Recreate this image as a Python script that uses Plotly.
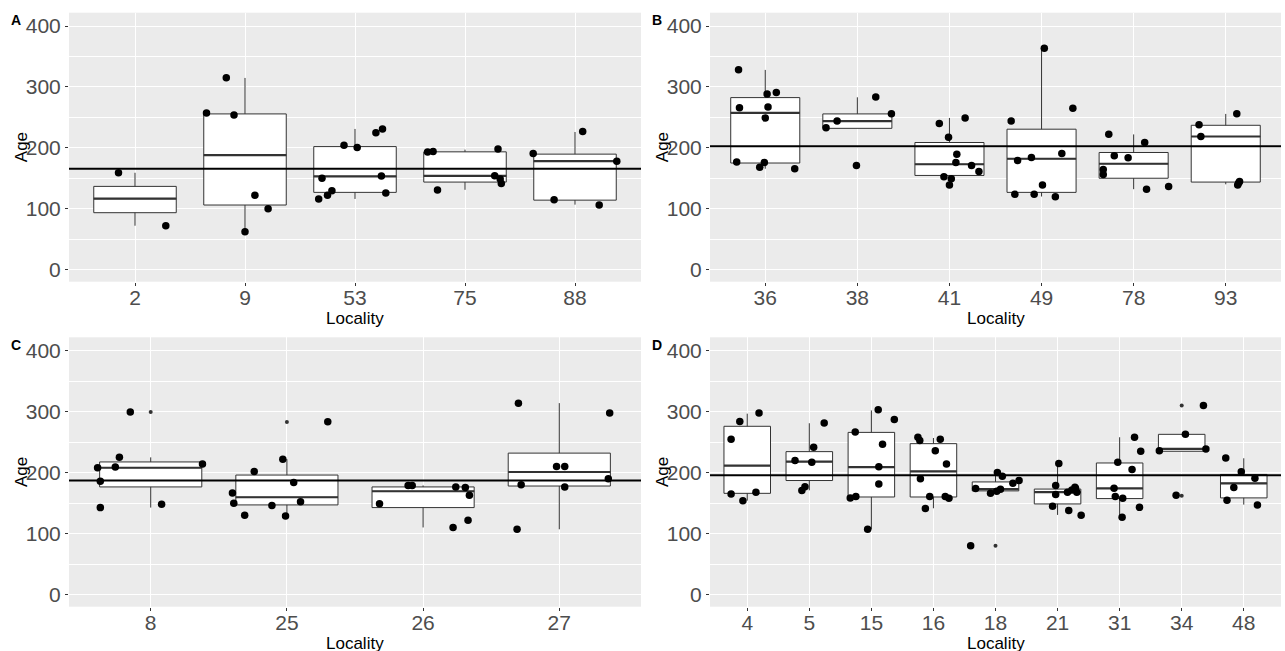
import plotly.graph_objects as go

# ---------------- Panel A ----------------
A_loc = ["2", "9", "53", "75", "88"]
A_q1 = [93.4, 106, 126.8, 143.7, 114]
A_med = [116.4, 188, 153, 154, 178]
A_q3 = [136.6, 255.7, 202, 193.4, 189.6]
A_lo = [72, 62.3, 116, 131, 106.6]
A_hi = [159, 314.8, 231, 197, 226]
A_pt_loc = ["2", "2",
            "9", "9", "9", "9", "9", "9",
            "53", "53", "53", "53", "53", "53", "53", "53", "53", "53",
            "75", "75", "75", "75", "75", "75", "75",
            "88", "88", "88", "88", "88"]
A_pt_jit = [-0.15, 0.28,
            -0.35, -0.17, -0.10, 0.09, 0.21, 0.0,
            -0.33, -0.30, -0.25, -0.21, -0.10, 0.02, 0.19, 0.25, 0.24, 0.28,
            -0.34, -0.29, -0.25, 0.30, 0.27, 0.32, 0.33,
            -0.38, -0.19, 0.07, 0.22, 0.38]
A_pt_age = [159, 72,
            257, 315, 254, 122, 100, 62,
            116, 150, 122, 129.5, 204, 200.5, 224.6, 231, 153.6, 125.7,
            193, 194, 130.6, 198, 154, 148.6, 141.5,
            190.7, 114.8, 227, 106, 178]
A_out_loc = []
A_out_age = []
A_mean = 165.6

# ---------------- Panel B ----------------
B_loc = ["36", "38", "41", "49", "78", "93"]
B_q1 = [175, 232, 154.6, 126.8, 150, 143.7]
B_med = [257.4, 244, 173, 182, 173.8, 218.6]
B_q3 = [282.5, 255.7, 208.7, 230.6, 192.3, 237]
B_lo = [165.6, 232, 139, 120, 132, 140]
B_hi = [328, 283, 249, 363, 222, 255.7]
B_pt_loc = ["36"] * 10 + ["38"] * 5 + ["41"] * 10 + ["49"] * 10 + ["78"] * 8 + ["93"] * 6
B_pt_jit = [-0.29, -0.28, -0.31, -0.06, -0.01, 0.0, 0.02, 0.03, 0.12, 0.32,
            -0.34, -0.22, -0.01, 0.20, 0.37,
            -0.11, -0.01, 0.08, 0.07, -0.06, 0.02, 0.0, 0.17, 0.24, 0.32,
            -0.33, -0.26, -0.29, -0.11, -0.08, 0.01, 0.03, 0.15, 0.22, 0.34,
            -0.27, -0.21, -0.33, -0.33, -0.06, 0.12, 0.14, 0.38,
            -0.29, -0.27, 0.12, 0.13, 0.15, 0.14]
B_pt_age = [328.4, 266, 176.5, 168, 176, 249, 288.5, 267, 290.7, 165.6,
            233, 244, 171, 283.6, 256,
            240, 217.5, 189.6, 176, 152.5, 149, 139, 249, 171, 161,
            244, 179, 123.5, 184, 123.5, 139, 363.4, 119.7, 190.7, 265,
            222.4, 187, 164.5, 156, 183.6, 208.7, 132, 136.6,
            237.7, 218.6, 256, 139, 144.8, 142]
B_out_loc = ["38"]
B_out_age = [171]
B_mean = 202.7

# ---------------- Panel C ----------------
C_loc = ["8", "25", "26", "27"]
C_q1 = [176.5, 147, 142.6, 178]
C_med = [208, 159.6, 169.4, 201]
C_q3 = [217.5, 196, 176.5, 232]
C_lo = [142.6, 129, 110, 107]
C_hi = [225, 222, 179, 314]
C_pt_loc = ["8"] * 8 + ["25"] * 10 + ["26"] * 8 + ["27"] * 8
C_pt_jit = [-0.39, -0.37, -0.37, -0.26, -0.23, -0.15, 0.08, 0.38,
            -0.40, -0.39, -0.31, -0.24, -0.11, -0.03, -0.01, 0.05, 0.10, 0.30,
            -0.32, -0.11, -0.08, 0.22, 0.24, 0.31, 0.34, 0.33,
            -0.30, -0.31, -0.28, -0.02, 0.04, 0.04, 0.36, 0.37]
C_pt_age = [208, 186, 142.6, 209, 225, 299.5, 148, 214,
            166.7, 149.7, 130, 202, 146, 222, 129, 183.6, 152, 283.6,
            149, 179, 179, 110, 176.5, 175.4, 163, 122,
            314, 107, 180, 210, 210, 176.5, 190, 298]
C_out_loc = ["8", "25"]
C_out_age = [299.5, 283]
C_mean = 186.9

# ---------------- Panel D ----------------
D_loc = ["4", "5", "15", "16", "18", "21", "31", "34", "48"]
D_q1 = [166, 187, 160, 160, 170, 148.6, 157.4, 235, 158.5]
D_med = [211.5, 218, 209, 202, 173, 168, 174, 238.8, 182.5]
D_q3 = [276, 234.4, 266, 247.5, 184.7, 173, 215.8, 262.8, 197]
D_lo = [154, 171, 107, 141.5, 166, 130.6, 126.8, 235, 147.5]
D_hi = [296.7, 281, 302, 256.8, 201.6, 215, 258, 262.8, 223.5]
D_pt_loc = (["4"] * 6 + ["5"] * 6 + ["15"] * 9 + ["16"] * 10 + ["18"] * 9
            + ["21"] * 11 + ["31"] * 9 + ["34"] * 5 + ["48"] * 6)
D_pt_jit = [-0.26, -0.12, -0.26, -0.07, 0.14, 0.19,
            -0.23, -0.12, -0.07, 0.04, 0.07, 0.24,
            -0.34, -0.25, -0.26, -0.06, 0.11, 0.12, 0.12, 0.18, 0.37,
            -0.25, -0.22, -0.21, -0.13, -0.06, 0.03, 0.11, 0.21, 0.19, 0.25,
            -0.40, -0.32, -0.08, 0.02, 0.03, 0.08, 0.11, 0.28, 0.38,
            -0.08, -0.03, -0.03, 0.02, 0.18, 0.16, 0.23, 0.28, 0.31, 0.38, 0.29,
            -0.09, -0.07, -0.03, 0.05, 0.04, 0.20, 0.24, 0.32, 0.34,
            -0.36, -0.09, 0.06, 0.35, 0.39,
            -0.29, -0.27, -0.16, -0.04, 0.18, 0.22]
D_pt_age = [165, 284, 254.6, 154, 167.8, 297.8,
            219.7, 170.5, 177, 217, 241.5, 281.4,
            158.5, 160.7, 266.7, 107, 303.3, 209.8, 181.4, 246.4, 287,
            258, 252.5, 190, 141, 160.7, 236, 254.6, 214, 160.7, 158,
            80, 173.8, 166, 169.4, 200, 172.7, 194, 182.5, 187,
            144.8, 164, 179, 215, 137.7, 167.8, 171.6, 176, 167.8, 130, 173.8,
            174.3, 160.7, 217, 158, 126.8, 205, 258, 143, 235,
            236, 162.8, 262.8, 310, 238.8,
            224, 154.6, 175.4, 201.6, 190.7, 147]
D_out_loc = ["18", "34", "34"]
D_out_age = [79.8, 310, 162]
D_mean = 195.6

Y_TICKS = [0, 100, 200, 300, 400]

# ---------------- Styling constants ----------------
FONT = "Liberation Sans, Arial, sans-serif"
TICK_COLOR = "#4d4d4d"
BOX_HALF = 0.375
W, H = 1285, 651

panels = [
    dict(loc=A_loc, q1=A_q1, med=A_med, q3=A_q3, lo=A_lo, hi=A_hi,
         pl=A_pt_loc, pj=A_pt_jit, pa=A_pt_age, ol=A_out_loc, oa=A_out_age,
         mean=A_mean, ax="", xd=(69, 641), yd=(12.7, 281.7), lab="A"),
    dict(loc=B_loc, q1=B_q1, med=B_med, q3=B_q3, lo=B_lo, hi=B_hi,
         pl=B_pt_loc, pj=B_pt_jit, pa=B_pt_age, ol=B_out_loc, oa=B_out_age,
         mean=B_mean, ax="2", xd=(710, 1281), yd=(12.7, 281.7), lab="B"),
    dict(loc=C_loc, q1=C_q1, med=C_med, q3=C_q3, lo=C_lo, hi=C_hi,
         pl=C_pt_loc, pj=C_pt_jit, pa=C_pt_age, ol=C_out_loc, oa=C_out_age,
         mean=C_mean, ax="3", xd=(69, 641), yd=(337.3, 606.7), lab="C"),
    dict(loc=D_loc, q1=D_q1, med=D_med, q3=D_q3, lo=D_lo, hi=D_hi,
         pl=D_pt_loc, pj=D_pt_jit, pa=D_pt_age, ol=D_out_loc, oa=D_out_age,
         mean=D_mean, ax="4", xd=(710, 1281), yd=(337.3, 606.7), lab="D"),
]

fig = go.Figure()
layout = {}
annotations = []
shapes = []

for p in panels:
    xa = "x" + p["ax"]
    ya = "y" + p["ax"]
    n = len(p["loc"])
    pos = list(range(1, n + 1))
    idx = {l: i + 1 for i, l in enumerate(p["loc"])}

    fig.add_trace(go.Box(
        x=pos, q1=p["q1"], median=p["med"], q3=p["q3"],
        lowerfence=p["lo"], upperfence=p["hi"],
        width=2 * BOX_HALF, whiskerwidth=0, boxpoints=False,
        fillcolor="white", line=dict(color="#333333", width=1),
        xaxis=xa, yaxis=ya, showlegend=False, hoverinfo="skip"))

    mx, my = [], []
    for i, m in zip(pos, p["med"]):
        mx += [i - BOX_HALF, i + BOX_HALF, None]
        my += [m, m, None]
    fig.add_trace(go.Scatter(x=mx, y=my, mode="lines",
                             line=dict(color="#333333", width=2.2),
                             xaxis=xa, yaxis=ya, showlegend=False, hoverinfo="skip"))

    if p["ol"]:
        fig.add_trace(go.Scatter(
            x=[idx[l] for l in p["ol"]], y=p["oa"], mode="markers",
            marker=dict(color="#333333", size=4),
            xaxis=xa, yaxis=ya, showlegend=False, hoverinfo="skip"))

    fig.add_trace(go.Scatter(
        x=[idx[l] + j for l, j in zip(p["pl"], p["pj"])], y=p["pa"],
        mode="markers", marker=dict(color="black", size=7.5),
        xaxis=xa, yaxis=ya, showlegend=False))

    shapes.append(dict(type="line", xref=xa + " domain", x0=0, x1=1,
                       yref=ya, y0=p["mean"], y1=p["mean"],
                       line=dict(color="black", width=2), layer="above"))

    x0, x1 = p["xd"]
    y0, y1 = p["yd"]
    key = p["ax"]
    layout["xaxis" + key] = dict(
        domain=[x0 / W, x1 / W], anchor=ya, range=[0.4, n + 0.6],
        tickvals=pos, ticktext=p["loc"], showgrid=True, gridcolor="white",
        gridwidth=1.1, zeroline=False, showline=False, ticks="outside",
        ticklen=3, tickcolor="#333333", tickwidth=1, ticklabelstandoff=-6,
        tickfont=dict(family=FONT, size=21, color=TICK_COLOR), fixedrange=True)
    layout["yaxis" + key] = dict(
        domain=[(H - y1) / H, (H - y0) / H], anchor=xa, range=[-20, 422],
        tickvals=Y_TICKS, showgrid=True, gridcolor="white", gridwidth=1.1,
        minor=dict(dtick=50, tick0=0, showgrid=True, gridcolor="white", gridwidth=0.5),
        zeroline=False, showline=False, ticks="outside", ticklen=3,
        tickcolor="#333333", tickwidth=1,
        tickfont=dict(family=FONT, size=21, color=TICK_COLOR), fixedrange=True)

    # axis titles
    annotations.append(dict(text="Age", xref="paper", yref="paper",
                            x=(x0 - 48) / W, y=(H - (y0 + y1) / 2) / H,
                            textangle=-90, showarrow=False, xanchor="center",
                            yanchor="middle",
                            font=dict(family=FONT, size=17, color="black")))
    annotations.append(dict(text="Locality", xref="paper", yref="paper",
                            x=(x0 + x1) / 2 / W, y=(H - (y1 + 37)) / H,
                            showarrow=False, xanchor="center", yanchor="middle",
                            font=dict(family=FONT, size=17, color="black")))
    annotations.append(dict(text="<b>" + p["lab"] + "</b>", xref="paper", yref="paper",
                            x=(x0 - 53.5) / W, y=(H - (y0 + 7.5)) / H,
                            showarrow=False, xanchor="center", yanchor="middle",
                            font=dict(family=FONT, size=14, color="black")))

fig.update_layout(
    width=W, height=H, margin=dict(l=0, r=0, t=0, b=0),
    paper_bgcolor="white", plot_bgcolor="#EBEBEB",
    showlegend=False, annotations=annotations, shapes=shapes,
    font=dict(family=FONT), **layout)

fig.write_html("out.html")
